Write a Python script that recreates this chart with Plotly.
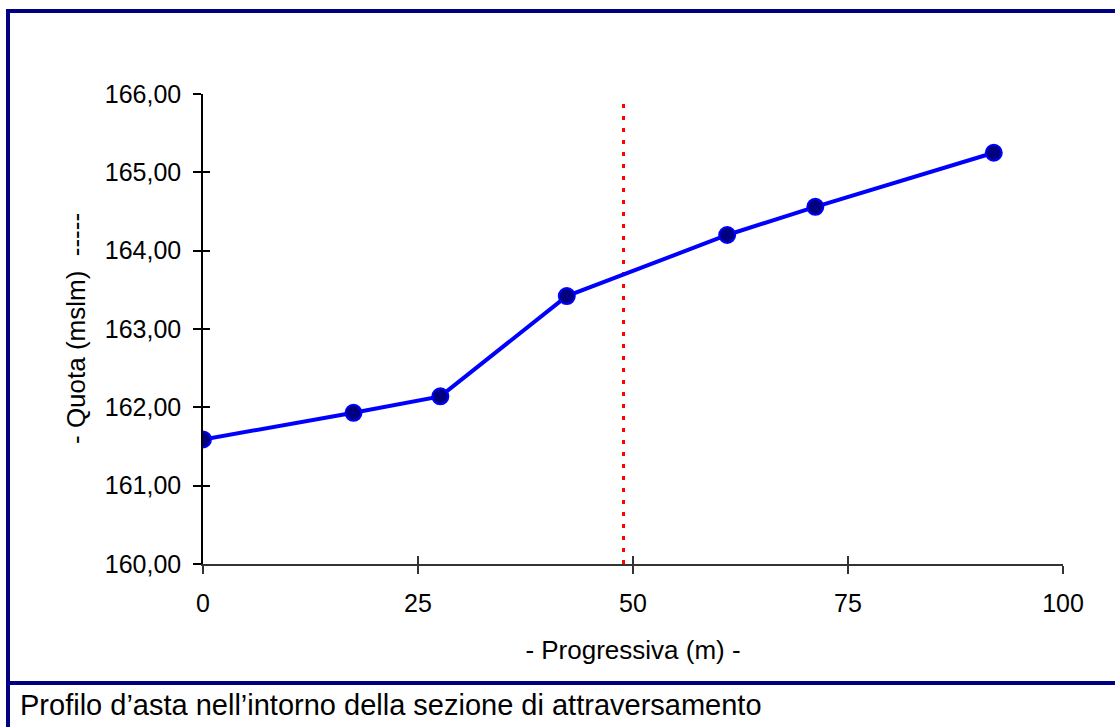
import plotly.graph_objects as go

# ---- data ----
progressiva = [0, 17.5, 27.6, 42.3, 60.95, 71.2, 91.95]
quota = [161.59, 161.93, 162.14, 163.42, 164.20, 164.56, 165.25]
sezione_x = [48.9, 48.9]
sezione_y = [160.0, 165.95]
x_ticks = [0, 25, 50, 75, 100]
y_ticks = [160, 161, 162, 163, 164, 165, 166]
x_range = [0, 100]
y_range = [160, 166]

FONT = "Liberation Sans, Arial, sans-serif"
NAVY = "#000080"

W, H = 1115, 727
L, R, T, B = 203, 52, 94, 163
pw, ph = W - L - R, H - T - B

def px(x):
    return (x - L) / pw

def py(y):
    return (H - B - y) / ph

fig = go.Figure()

fig.add_trace(go.Scatter(
    x=sezione_x, y=sezione_y, mode="lines",
    line=dict(color="#FF0000", width=3, dash="4px,8px"),
    showlegend=False, hoverinfo="skip"))

fig.add_trace(go.Scatter(
    x=progressiva, y=quota, mode="lines+markers",
    line=dict(color="#0000FF", width=4),
    marker=dict(size=16, color=NAVY, line=dict(color="#0000FF", width=2)),
    showlegend=False))

# dummy trace for overlay axes (crossing ticks)
fig.add_trace(go.Scatter(x=[None], y=[None], xaxis="x2", yaxis="y2",
                         showlegend=False, hoverinfo="skip"))

axis_font = dict(family=FONT, size=25, color="#000000")

fig.update_layout(
    width=W, height=H,
    margin=dict(l=L, r=R, t=T, b=B),
    paper_bgcolor="white", plot_bgcolor="white",
    separators=", ",
    font=dict(family=FONT, color="#000000"),
    xaxis=dict(range=x_range, tickvals=x_ticks, ticks="outside", ticklen=8,
               tickwidth=2, tickcolor="#333333", showline=True, linecolor="#333333",
               linewidth=2, showgrid=False, zeroline=False, tickfont=axis_font,
               ticklabelstandoff=8,
               title=dict(text="- Progressiva (m) -", font=dict(family=FONT, size=26),
                          standoff=25)),
    yaxis=dict(range=y_range, tickvals=y_ticks, tickformat=".2f", ticks="outside",
               ticklen=8, tickwidth=1.5, tickcolor="#000000", showline=True,
               linecolor="#000000", linewidth=1.5, showgrid=False, zeroline=False,
               tickfont=axis_font, ticklabelstandoff=7),
    xaxis2=dict(range=x_range, tickvals=x_ticks, overlaying="x", anchor="y", side="bottom",
                ticks="inside", ticklen=8, tickwidth=2, tickcolor="#333333",
                showticklabels=False, showline=False, showgrid=False, zeroline=False),
    yaxis2=dict(range=y_range, tickvals=y_ticks, overlaying="y", anchor="x", side="left",
                ticks="inside", ticklen=7, tickwidth=1.5, tickcolor="#000000",
                showticklabels=False, showline=False, showgrid=False, zeroline=False),
)

# y-axis title
fig.add_annotation(
    text="- Quota (mslm)  -----", textangle=-90,
    xref="paper", yref="paper", x=px(76), y=0.5, xanchor="center", yanchor="middle",
    showarrow=False, font=dict(family=FONT, size=26, color="#000000"))

# border frame
border = dict(color=NAVY, width=4)
fig.add_shape(type="line", xref="paper", yref="paper", x0=px(8), x1=px(8),
              y0=py(11), y1=py(740), line=border)
fig.add_shape(type="line", xref="paper", yref="paper", x0=px(6), x1=px(1130),
              y0=py(11), y1=py(11), line=border)
fig.add_shape(type="line", xref="paper", yref="paper", x0=px(6), x1=px(1130),
              y0=py(683), y1=py(683), line=border)

fig.add_annotation(
    text="Profilo d\u2019asta nell\u2019intorno della sezione di attraversamento",
    xref="paper", yref="paper", x=px(18), y=py(705), xanchor="left", yanchor="middle",
    showarrow=False, font=dict(family=FONT, size=29, color="#000000"))

fig.write_html("out.html", config={"displayModeBar": False},
               post_script="document.body.style.margin='0';")
